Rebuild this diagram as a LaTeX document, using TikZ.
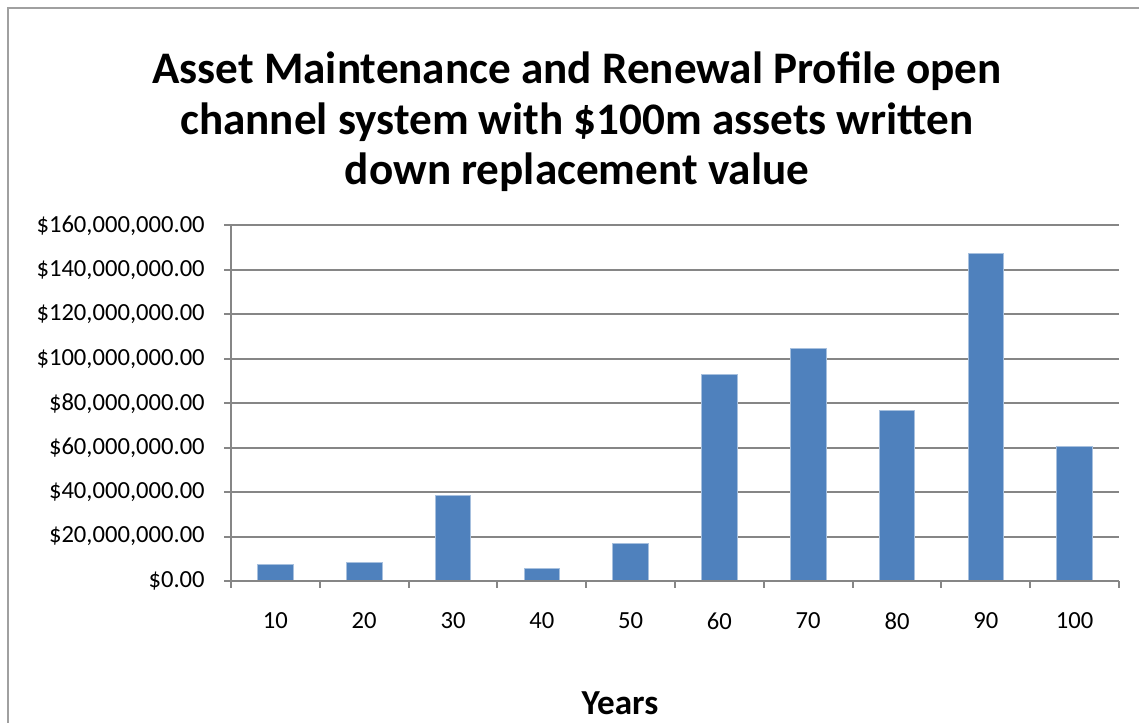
\documentclass[tikz,border=0pt]{standalone}
\usepackage{fontspec}
\setmainfont{Carlito}
\usetikzlibrary{positioning}
\definecolor{barblue}{HTML}{4F81BD}
\definecolor{baredge}{HTML}{A7C0DE}
\definecolor{gridgray}{HTML}{868686}
\definecolor{framegray}{HTML}{A0A0A0}
\tikzset{
    bar/.style={fill=barblue, draw=baredge, line width=0.4pt},
    gridline/.style={draw=gridgray, line width=1.1pt},
    axisline/.style={draw=gridgray, line width=1.1pt},
    ticklabel/.style={font=\fontsize{14}{16}\selectfont, inner sep=0pt},
}
\begin{document}
\begin{tikzpicture}[x=0.02cm,y=0.02cm]
\useasboundingbox (0,0) rectangle (1139,723);

%%% FRAME %%%
\draw[draw=framegray, line width=1pt] (8,0) -- (8,715) -- (1139,715);

%%% COORDINATES %%%
\coordinate (O) at (231,142); % origin
\coordinate (R) at (1119,142); % end of x axis
\coordinate (T) at (231,497.6); % top of y axis

%%% GRID %%%
\foreach \k in {1,...,8}
  \draw[gridline] (224,{142+\k*44.45}) -- (1119,{142+\k*44.45});

%%% BARS %%%
\foreach \i/\v in {1/7.5,2/8.4,3/38.4,4/5.9,5/17.1,6/92.8,7/104.5,8/76.6,9/147.3,10/60.8}
  \filldraw[bar] ({231+88.8*(\i-0.5)-17.8},142) rectangle ++(35.6,{\v*2.2225});

%%% AXES %%%
\draw[axisline] (O) -- (R);
\draw[axisline] (O) -- (T);
% ticks
\foreach \j in {0,...,10}
  \draw[axisline] ({231+88.8*\j},142) -- ({231+88.8*\j},135);
\draw[axisline] (224,142) -- (O);

%%% LABELS %%%
% y axis
\foreach \k/\lab in {0/{\$0.00},1/{\$20,000,000.00},2/{\$40,000,000.00},3/{\$60,000,000.00},
    4/{\$80,000,000.00},5/{\$100,000,000.00},6/{\$120,000,000.00},7/{\$140,000,000.00},8/{\$160,000,000.00}}
  \node[ticklabel, anchor=east] (y\k) at (205,{142+\k*44.45}) {\lab};
% x axis
\foreach \i in {1,...,10}
  \node[ticklabel] (x\i) at ({231+88.8*(\i-0.5)},102) {\i0};
\node[font=\bfseries\fontsize{20}{22}\selectfont] (years) at (620,20) {Years};

%%% TITLE %%%
\node[font=\bfseries\fontsize{25.7}{28.7}\selectfont, align=center] (title) at (577,601)
  {Asset Maintenance and Renewal Profile open\\channel system with \$100m assets written\\down replacement value};
\end{tikzpicture}
\end{document}
